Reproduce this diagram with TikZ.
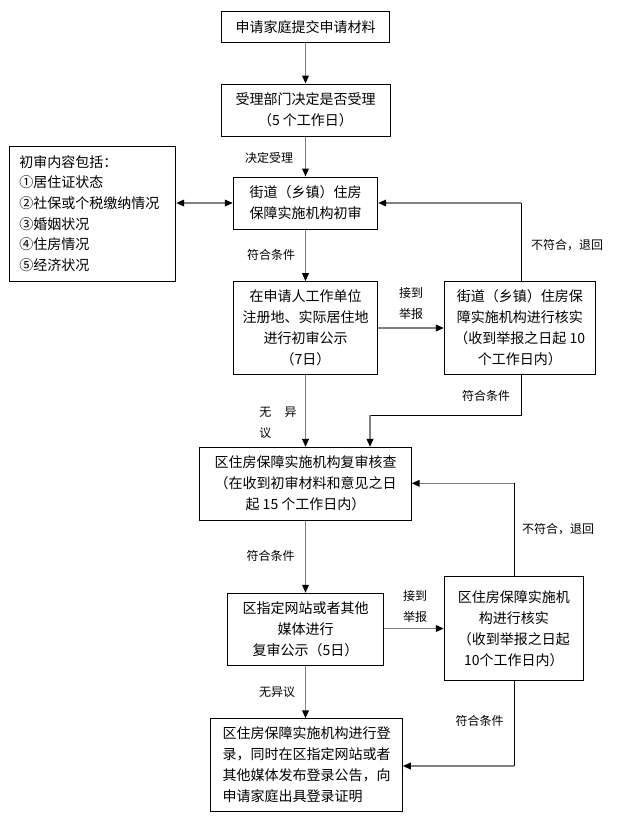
\documentclass[tikz,border=0pt]{standalone}
\usepackage{fontspec}
\setmainfont{Noto Sans CJK SC}
\usetikzlibrary{arrows.meta}
\begin{document}
\begin{tikzpicture}[x=0.75pt,y=-0.75pt,
  box/.style={draw=black,line width=0.75pt,align=center,inner sep=2pt,font=\fontsize{10.5pt}{15.75pt}\selectfont},
  lbl/.style={font=\fontsize{9pt}{15.75pt}\selectfont,inner sep=0pt,align=center},
  tip/.style={-{Triangle[length=6pt,width=5pt,black]}},
  conn/.style={draw=gray,line width=1.1pt,tip},
  thin/.style={draw=black,line width=0.75pt}]
\useasboundingbox (0,0) rectangle (624,822);
\fill[white] (0,0) rectangle (624,822);

\node[box,minimum width=126.3pt,minimum height=23pt] (b1) at (305.5,27) {申请家庭提交申请材料};
\node[box,minimum width=126.75pt,minimum height=39pt] (b2) at (305.5,110) {受理部门决定是否受理\\（5 个工作日）};
\node[box,minimum width=108.3pt,minimum height=39pt] (b3) at (305.5,203) {街道（乡镇）住房\\保障实施机构初审};
\node[box,align=left,text width=110pt,inner xsep=7.2pt,minimum height=101.25pt,font=\fontsize{10.5pt}{15.5pt}\selectfont] (bl) at (92.8,213.5) {初审内容包括：\\①居住证状态\\②社保或个税缴纳情况\\③婚姻状况\\④住房情况\\⑤经济状况};
\node[box,minimum width=108pt,minimum height=69.5pt] (b4) at (305.5,328) {在申请人工作单位\\注册地、实际居住地\\进行初审公示\\（7日）};
\node[box,minimum width=113.25pt,minimum height=69.5pt] (b5) at (519.8,328) {街道（乡镇）住房保\\障实施机构进行核实\\（收到举报之日起 10\\个工作日内）};
\node[box,minimum width=158.5pt,minimum height=54.5pt] (b6) at (305.5,483.7) {区住房保障实施机构复审核查\\（在收到初审材料和意见之日\\起 15 个工作日内）};
\node[box,minimum width=117pt,minimum height=54pt] (b7) at (305.5,629.3) {区指定网站或者其他\\媒体进行\\复审公示（5日）};
\node[box,minimum width=104.25pt,minimum height=77.7pt] (b8) at (513.8,628.5) {区住房保障实施机\\构进行核实\\（收到举报之日起\\10个工作日内）};
\node[box,align=left,minimum width=143.7pt,minimum height=69.2pt] (b9) at (306.5,764.9) {区住房保障实施机构进行登\\录，同时在区指定网站或者\\其他媒体发布登录公告，向\\申请家庭出具登录证明};

% main column
\draw[conn] (b1.south) -- (b2.north);
\draw[conn] (b2.south) -- (b3.north);
\draw[conn] (b3.south) -- (b4.north);
\draw[conn] (b4.south) -- (b6.north);
\draw[conn] (b6.south) -- (b7.north);
\draw[conn] (b7.south) -- (b7.south |- b9.north);

% double arrow
\draw[draw=gray,line width=1.1pt,{Triangle[length=6pt,width=5pt,black]}-{Triangle[length=6pt,width=5pt,black]}] (b3.west -| bl.east) -- (b3.west);

% report arrows
\draw[conn] (b4.east) -- (b4.east -| b5.west);
\draw[conn] (b7.east |- b8.west) -- (b8.west);

% return b5 -> b3
\coordinate (r1) at (521,203);
\draw[thin] (b5.north -| r1) -- (r1);
\draw[conn] (r1) -- (r1 -| b3.east);

% b5 -> b6
\coordinate (c2) at (521,415);
\coordinate (c3) at (370,415);
\draw[thin] (b5.south -| c2) -- (c2) -- (c3);
\draw[conn] (c3) -- (c3 |- b6.north);

% return b8 -> b6
\coordinate (c4) at (514,483.3);
\draw[thin] (b8.north -| c4) -- (c4);
\draw[conn] (c4) -- (c4 -| b6.east);

% b8 -> b9
\coordinate (c5) at (514,766);
\draw[thin] (b8.south -| c5) -- (c5);
\draw[conn] (c5) -- (c5 -| b9.east);

% labels
\node[lbl] (l1) at (269,158) {决定受理};
\node[lbl] (l2) at (271,255) {符合条件};
\node[lbl] (l3) at (567,245) {不符合，退回};
\node[lbl] (l4) at (411,303.5) {接到\\举报};
\node[lbl] (l5) at (486,396) {符合条件};
\node[lbl,align=left,anchor=west] (l6) at (259,423) {无\hspace{10pt}异\\议};
\node[lbl] (l7) at (558,529) {不符合，退回};
\node[lbl] (l8) at (270.5,556) {符合条件};
\node[lbl] (l9) at (415,606.5) {接到\\举报};
\node[lbl] (l10) at (277,692) {无异议};
\node[lbl] (l11) at (479.5,721) {符合条件};
\end{tikzpicture}
\end{document}
